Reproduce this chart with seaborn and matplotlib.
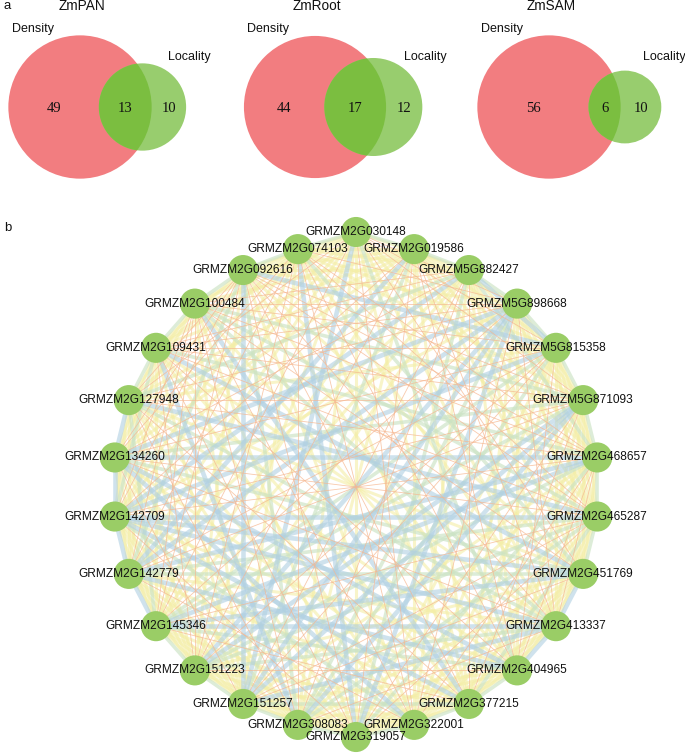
import itertools
import numpy as np
import pandas as pd
import matplotlib
matplotlib.use("Agg")
import matplotlib.pyplot as plt
from matplotlib.patches import Circle
from matplotlib.collections import LineCollection
import seaborn as sns

# =========================
# Data
# =========================
venn_titles = ["ZmPAN", "ZmRoot", "ZmSAM"]
density_only = [49, 44, 56]
shared = [13, 17, 6]
locality_only = [10, 12, 10]

# genes in circular order, counter-clockwise from the top
genes = ["GRMZM2G030148", "GRMZM2G074103", "GRMZM2G092616", "GRMZM2G100484",
         "GRMZM2G109431", "GRMZM2G127948", "GRMZM2G134260", "GRMZM2G142709",
         "GRMZM2G142779", "GRMZM2G145346", "GRMZM2G151223", "GRMZM2G151257",
         "GRMZM2G308083", "GRMZM2G319057", "GRMZM2G322001", "GRMZM2G377215",
         "GRMZM2G404965", "GRMZM2G413337", "GRMZM2G451769", "GRMZM2G465287",
         "GRMZM2G468657", "GRMZM5G871093", "GRMZM5G815358", "GRMZM5G898668",
         "GRMZM5G882427", "GRMZM2G019586"]

# strong links (thick blue)
blue_edges = [(2, 22), (24, 22), (23, 11), (23, 8), (7, 22), (7, 19), (7, 17),
              (7, 18), (8, 20), (8, 16), (11, 2), (11, 21), (11, 17), (9, 20),
              (10, 23), (15, 7), (14, 6), (16, 6), (25, 8), (24, 7), (6, 23),
              (4, 18), (5, 19), (3, 15), (12, 21), (13, 23), (1, 13), (9, 18),
              (10, 21), (0, 11), (12, 4), (6, 20), (9, 17),
              (5, 6), (6, 7), (7, 8), (8, 9), (16, 17), (17, 18)]

# medium links (pale green)
green_edges = [(0, 1), (1, 2), (2, 3), (3, 4), (4, 5), (9, 10), (10, 11),
               (11, 12), (12, 13), (13, 14), (14, 15), (15, 16), (18, 19),
               (19, 20), (20, 21), (21, 22), (22, 23), (23, 24), (24, 25), (25, 0),
               (2, 8), (3, 19), (4, 20), (5, 17), (6, 18), (8, 19), (9, 21),
               (10, 19), (12, 22), (13, 20), (14, 7), (15, 5), (16, 4), (17, 3),
               (18, 8), (20, 10), (21, 6), (22, 9), (23, 12), (24, 13), (25, 11),
               (0, 16), (1, 18), (2, 12), (3, 21), (5, 24), (6, 14), (9, 16),
               (10, 17), (12, 19), (4, 7), (5, 9), (11, 15), (15, 19), (20, 24)]

# weak links (thin orange)
orange_edges = {
    0: [5, 9, 14, 18, 21],
    1: [6, 10, 16, 20, 23],
    2: [7, 9, 13, 15, 17, 19, 5],
    3: [8, 12, 14, 18, 22, 24, 10],
    4: [10, 13, 16, 21, 24],
    5: [12, 15, 23, 20],
    6: [11, 17, 24, 2],
    7: [13, 21, 25, 3],
    8: [14, 22, 1],
    9: [15, 19, 23, 3],
    10: [16, 25, 22],
    11: [18, 22, 24, 19],
    12: [17, 24, 1],
    13: [19, 25, 21],
    14: [20, 23, 1],
    15: [21, 24],
    16: [22, 20, 25],
    17: [23, 25, 20],
    19: [1, 6, 4],
    20: [2, 3, 7],
    21: [2, 5, 8],
    22: [0, 4, 6],
    23: [3, 4, 0],
}

# =========================
# Figure
# =========================
sns.set_style("white")
plt.rcParams["font.family"] = ["Liberation Sans", "DejaVu Sans"]

W, H = 685, 753
fig = plt.figure(figsize=(W / 100, H / 100), dpi=100)

# ---- a: Venn diagrams (axes in pixel units) ----
ax_v = fig.add_axes([0, 1 - 200 / H, 1, 200 / H])
ax_v.set_xlim(0, W)
ax_v.set_ylim(200, 0)
ax_v.set_axis_off()

red_col = "#F27D80"
green_col = "#98CD6E"
both_col = "#7BBE40"
scale = 9.1  # px per sqrt(count)
red_cx = [80, 315, 549]
cy = 107


def lens_area(r1, r2, d):
    if d >= r1 + r2:
        return 0.0
    if d <= abs(r1 - r2):
        return np.pi * min(r1, r2) ** 2
    a1 = r1 ** 2 * np.arccos((d ** 2 + r1 ** 2 - r2 ** 2) / (2 * d * r1))
    a2 = r2 ** 2 * np.arccos((d ** 2 + r2 ** 2 - r1 ** 2) / (2 * d * r2))
    a3 = 0.5 * np.sqrt((-d + r1 + r2) * (d + r1 - r2) * (d - r1 + r2) * (d + r1 + r2))
    return a1 + a2 - a3


for i, title in enumerate(venn_titles):
    n1 = density_only[i] + shared[i]
    n2 = locality_only[i] + shared[i]
    r1 = scale * np.sqrt(n1)
    r2 = scale * np.sqrt(n2)
    target = np.pi * scale ** 2 * shared[i]
    lo, hi = abs(r1 - r2), r1 + r2
    for _ in range(60):
        mid = (lo + hi) / 2
        if lens_area(r1, r2, mid) > target:
            lo = mid
        else:
            hi = mid
    d = (lo + hi) / 2
    c1 = red_cx[i]
    c2 = c1 + d

    red = Circle((c1, cy), r1, facecolor=red_col, edgecolor="none")
    ax_v.add_patch(red)
    ax_v.add_patch(Circle((c2, cy), r2, facecolor=green_col, edgecolor="none"))
    inter = Circle((c2, cy), r2, facecolor=both_col, edgecolor="none")
    ax_v.add_patch(inter)
    inter.set_clip_path(red)

    num_kw = dict(ha="center", va="center", fontsize=10.5,
                  family="Liberation Serif", color="#111111")
    ax_v.text(((c1 - r1) + (c2 - r2)) / 2, cy + 1, str(density_only[i]), **num_kw)
    ax_v.text(((c2 - r2) + (c1 + r1)) / 2, cy + 1, str(shared[i]), **num_kw)
    ax_v.text(((c1 + r1) + (c2 + r2)) / 2, cy + 1, str(locality_only[i]), **num_kw)

    ax_v.text(c1 + 2, 6, title, ha="center", va="center", fontsize=9.8, color="#111111")
    ax_v.text(c1 - 47, 29, "Density", ha="center", va="center", fontsize=9, color="#111111")
    ax_v.text(c2 + r2 + 3, 57, "Locality", ha="center", va="center", fontsize=9, color="#111111")

fig.text(4 / W, 1.0, "a", ha="left", va="top", fontsize=9.5, color="#111111")
fig.text(4 / W, 1 - 228 / H, "b", ha="left", va="center", fontsize=9.5, color="#111111")

# ---- b: co-expression network (circular layout) ----
ax_n = fig.add_axes([0, 0, 1, 553 / H])
rx, ry = 243, 245
cx_px, cy_px = 356, 487
ax_n.set_xlim(-cx_px / rx, (W - cx_px) / rx)
ax_n.set_ylim(-(H - cy_px) / ry, (cy_px - 200) / ry)

n = len(genes)
ang = np.deg2rad(90 + np.arange(n) * 360 / n)
# the two pole nodes sit a little further out so their labels stay clear
push = np.ones(n)
push[0] = 1 + 10 / ry
push[13] = 1 + 5 / ry
nodes = pd.DataFrame({"gene": genes, "x": np.cos(ang) * push, "y": np.sin(ang) * push})
pos = nodes[["x", "y"]].to_numpy()

blue_set = {tuple(sorted(e)) for e in blue_edges}
orange_set = {tuple(sorted((a, b))) for a, bs in orange_edges.items() for b in bs} - blue_set
green_set = {tuple(sorted(e)) for e in green_edges} - blue_set - orange_set
yellow_set = set(itertools.combinations(range(n), 2)) - blue_set - orange_set - green_set


def segs(edge_set):
    return [[pos[a], pos[b]] for a, b in sorted(edge_set)]


ax_n.add_collection(LineCollection(segs(yellow_set), colors="#F4EEA6", linewidths=2.2, alpha=0.6, zorder=1))
ax_n.add_collection(LineCollection(segs(green_set), colors="#CBE3C4", linewidths=2.6, alpha=0.65, zorder=1.1))
ax_n.add_collection(LineCollection(segs(blue_set), colors="#B0D0E2", linewidths=3.3, alpha=0.6, zorder=1.2))
ax_n.add_collection(LineCollection(segs(orange_set), colors="#F6B790", linewidths=0.6, alpha=0.75, zorder=1.3))

sns.scatterplot(data=nodes, x="x", y="y", s=470, color="#9ACD66", edgecolor="none",
                legend=False, ax=ax_n, zorder=3)
for _, row in nodes.iterrows():
    ax_n.text(row["x"], row["y"], row["gene"], ha="center", va="center",
              fontsize=8.6, color="#111111", zorder=4)
ax_n.set_axis_off()

fig.savefig("out.png", dpi=100)
plt.close(fig)
